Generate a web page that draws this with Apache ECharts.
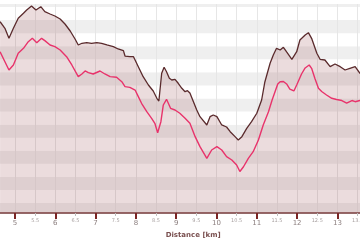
<!DOCTYPE html>
<html>
<head>
<meta charset="utf-8">
<script src="https://cdn.jsdelivr.net/npm/echarts@6/dist/echarts.min.js"></script>
<style>html,body{margin:0;padding:0;background:#fff}#c{width:360px;height:240px}</style>
</head>
<body>
<div id="c"></div>
<script>
// Distance (km) and elevation (m)
var upperKm = [4.63,4.75,4.85,4.96,5.08,5.21,5.29,5.41,5.52,5.64,5.74,5.87,5.99,6.12,6.24,6.37,6.49,6.57,6.66,6.78,6.90,7.03,7.15,7.28,7.44,7.56,7.69,7.73,7.85,7.94,7.98,8.06,8.18,8.31,8.43,8.52,8.57,8.64,8.70,8.76,8.83,8.89,8.97,9.05,9.14,9.22,9.28,9.34,9.42,9.51,9.59,9.76,9.84,9.92,10.01,10.13,10.25,10.34,10.46,10.54,10.63,10.75,10.87,11.00,11.12,11.20,11.33,11.41,11.49,11.58,11.66,11.74,11.87,11.99,12.07,12.20,12.28,12.36,12.49,12.57,12.69,12.82,12.94,13.07,13.19,13.31,13.44,13.56,13.65];
var upperElev = [477.5,467.4,452.1,467.4,482.7,490.4,495.4,501.6,495.4,500.5,492.8,489.3,486.2,481.7,474.0,463.3,451.1,441.9,444.5,445.4,444.5,445.4,444.5,441.9,439.3,435.8,433.2,425.0,424.0,424.0,418.9,408.7,393.4,380.7,371.5,360.3,356.2,398.6,407.8,401.0,390.9,388.3,389.4,383.3,375.6,370.4,371.9,368.4,356.2,342.4,332.2,319.5,332.2,334.8,332.2,319.5,316.4,309.2,301.6,296.5,301.6,314.4,324.5,337.4,357.7,385.3,413.9,426.6,436.8,434.2,438.4,431.2,420.0,431.6,449.5,457.2,460.7,452.1,429.2,420.0,418.9,408.7,412.8,408.7,403.6,406.2,408.7,398.6,396.0];

var lowerKm = [4.63,4.75,4.85,4.96,5.08,5.21,5.33,5.43,5.54,5.66,5.74,5.87,5.99,6.12,6.28,6.41,6.57,6.66,6.74,6.82,6.94,7.11,7.23,7.36,7.52,7.65,7.73,7.85,7.98,8.06,8.14,8.27,8.39,8.47,8.54,8.62,8.68,8.76,8.86,8.97,9.09,9.22,9.34,9.47,9.59,9.76,9.88,10.01,10.13,10.25,10.38,10.50,10.58,10.67,10.79,10.91,11.04,11.16,11.29,11.38,11.45,11.52,11.58,11.66,11.74,11.82,11.92,11.99,12.11,12.20,12.30,12.36,12.44,12.53,12.61,12.73,12.86,12.98,13.11,13.23,13.36,13.44,13.56,13.65];
var lowerElev = [431.6,416.3,403.6,411.3,429.2,436.8,446.9,452.1,445.4,452.1,448.5,441.9,439.3,434.2,424.0,411.3,393.4,397.5,402.1,399.5,397.5,402.1,397.5,393.4,392.5,385.7,378.1,377.1,373.0,362.8,352.7,339.8,329.7,322.1,307.7,324.5,350.1,358.8,345.0,342.4,337.4,329.7,322.1,301.6,286.3,268.5,281.2,286.3,281.2,271.0,265.9,258.2,248.3,255.6,268.5,278.6,296.5,319.5,339.8,357.7,370.0,382.2,385.7,386.0,382.2,374.5,371.5,380.7,397.5,406.7,411.3,406.2,390.9,375.6,370.7,365.4,360.3,358.5,356.9,353.1,356.9,355.1,356.9,356.0];

var kmMin = 4, kmMax = 14;
var elevMin = 184.8, elevMax = 504.6, elevStep = 20;
var xName = 'Distance [km]';

function pairs(xs, ys){ return xs.map(function(x,i){ return [x, ys[i]]; }); }

var chart = echarts.init(document.getElementById('c'), null, {renderer:'canvas'});
chart.setOption({
  animation: false,
  backgroundColor: '#ffffff',
  grid: { left: -25.3, right: -17.7, top: 4, bottom: 27, containLabel: false, outerBoundsMode: 'none' },
  xAxis: [
    { // half-km ticks, grid lines
      type: 'value', min: kmMin, max: kmMax, interval: 0.5, position: 'bottom',
      axisLine: { show: false },
      axisTick: { show: true, length: 3, lineStyle: { color: '#bdbdbd', width: 1 } },
      axisLabel: { show: true, margin: 5, fontSize: 5, color: '#a8a0a0', fontFamily: 'DejaVu Sans', hideOverlap: false,
        formatter: function(v){ return (Math.abs(v % 1) > 0.01) ? String(v) : ''; } },
      splitLine: { show: true, lineStyle: { color: '#e6e6e6', width: 1 } }
    },
    { // integer ticks and labels
      type: 'value', min: kmMin, max: kmMax, interval: 1, position: 'bottom',
      axisLine: { show: true, onZero: false, lineStyle: { color: '#946868', width: 2 } },
      axisTick: { show: true, length: 6, lineStyle: { color: '#7a2525', width: 2 } },
      axisLabel: { show: true, margin: 7, fontSize: 7, color: '#8c7f7f', fontFamily: 'DejaVu Sans', hideOverlap: false },
      splitLine: { show: false },
      name: xName, nameLocation: 'middle', nameGap: 19,
      nameTextStyle: { fontSize: 7, fontWeight: 'bold', color: '#7a5050', fontFamily: 'DejaVu Sans', padding: [0,0,0,34] }
    }
  ],
  yAxis: {
    type: 'value', min: elevMin, max: elevMax, minInterval: elevStep, maxInterval: elevStep, splitNumber: 16,
    axisLine: { show: false }, axisTick: { show: false }, axisLabel: { show: false },
    splitLine: { show: false },
    splitArea: { show: true, areaStyle: { color: ['#efefef', '#ffffff'] } }
  },
  series: [
    { type: 'line', xAxisIndex: 1, data: pairs(upperKm, upperElev), showSymbol: false, symbol: 'none',
      lineStyle: { color: '#5a2a2c', width: 1.3 },
      areaStyle: { color: 'rgba(150,70,75,0.27)', origin: 'start' } },
    { type: 'line', xAxisIndex: 1, data: pairs(lowerKm, lowerElev), showSymbol: false, symbol: 'none',
      lineStyle: { color: '#e8336b', width: 1.4 } }
  ]
});
</script>
</body>
</html>
